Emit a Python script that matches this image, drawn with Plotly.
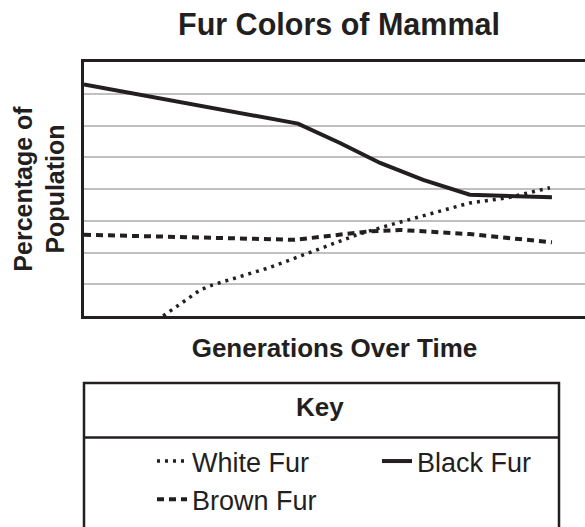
import plotly.graph_objects as go

# Data (generations on an arbitrary 0-10 scale, percentage on a 0-8 grid scale)
black_x = [0, 4.27, 5.11, 5.91, 6.77, 7.70, 9.34]
black_y = [7.29, 6.06, 5.45, 4.82, 4.29, 3.82, 3.74]

white_x = [1.58, 2.32, 2.57, 3.67, 4.17, 5.45, 6.11, 7.70, 8.44, 9.30]
white_y = [0.0, 0.82, 0.98, 1.51, 1.80, 2.56, 2.87, 3.56, 3.72, 4.04]

brown_x = [0, 4.21, 5.65, 6.31, 7.70, 9.34]
brown_y = [2.56, 2.40, 2.66, 2.71, 2.58, 2.32]

INK = "#231f20"
FONT = "Liberation Sans, Arial, Helvetica, sans-serif"

fig = go.Figure()
fig.add_trace(go.Scatter(x=white_x, y=white_y, mode="lines", name="White Fur",
                         line=dict(color=INK, width=3.5, dash="3px,5px")))
fig.add_trace(go.Scatter(x=black_x, y=black_y, mode="lines", name="Black Fur",
                         line=dict(color=INK, width=4)))
fig.add_trace(go.Scatter(x=brown_x, y=brown_y, mode="lines", name="Brown Fur",
                         line=dict(color=INK, width=4, dash="7px,5px")))

fig.update_layout(
    width=585, height=527,
    margin=dict(l=84, r=0, t=62, b=211, autoexpand=False),
    paper_bgcolor="white", plot_bgcolor="white",
    font=dict(family=FONT, color=INK),
    title=dict(text="<b>Fur Colors of Mammal</b>", font=dict(size=30.5, color=INK),
               x=0.509, xref="paper", xanchor="center",
               y=1 - 24 / 527, yref="container", yanchor="middle"),
    xaxis=dict(range=[0, 10], showgrid=False, zeroline=False, showticklabels=False,
               ticks="", showline=True, linecolor=INK, linewidth=2.5, mirror=True,
               automargin=False,
               title=dict(text="<b>Generations Over Time</b>", font=dict(size=26, color=INK),
                          standoff=22)),
    yaxis=dict(range=[0, 8], dtick=1, showgrid=True, gridcolor="#c0c0c0", gridwidth=2.3,
               zeroline=False, showticklabels=False, ticks="", showline=True,
               linecolor=INK, linewidth=2.5, automargin=False,
               title=dict(text="<b>Percentage of<br>Population</b>",
                          font=dict(size=25, color=INK), standoff=10)),
    showlegend=True,
    legend=dict(orientation="h", x=(152 - 84) / 501, xanchor="left",
                y=(316 - 437) / 254, yanchor="top",
                entrywidth=180, entrywidthmode="pixels",
                font=dict(size=27, color=INK), bgcolor="rgba(0,0,0,0)",
                traceorder="normal", tracegroupgap=0),
)

# Key box frame and header divider
fig.add_shape(type="rect", xref="paper", yref="paper",
              x0=0, x1=(559 - 84) / 501, y0=-1.0, y1=(316 - 383) / 254,
              line=dict(color=INK, width=2.5), fillcolor="rgba(0,0,0,0)", layer="below")
fig.add_shape(type="line", xref="paper", yref="paper",
              x0=0, x1=(559 - 84) / 501, y0=(316 - 437.5) / 254, y1=(316 - 437.5) / 254,
              line=dict(color=INK, width=2.5))
fig.add_annotation(text="<b>Key</b>", xref="paper", yref="paper",
                   x=(320 - 84) / 501, y=(316 - 407) / 254, xanchor="center", yanchor="middle",
                   showarrow=False, font=dict(size=26, color=INK))

fig.write_html("out.html", config={"displayModeBar": False},
               post_script="document.body.style.margin='0';")
